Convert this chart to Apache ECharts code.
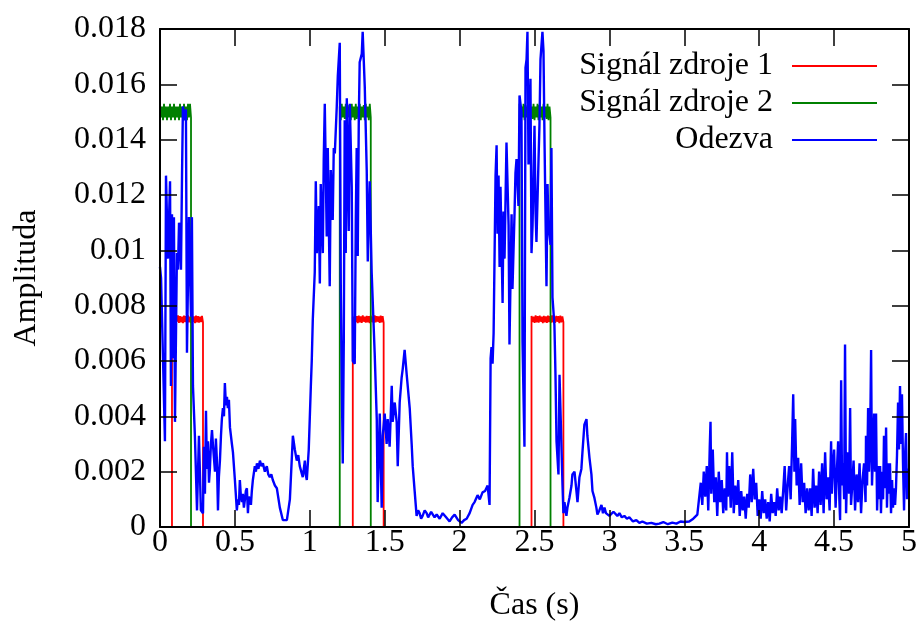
<!DOCTYPE html>
<html><head><meta charset="utf-8">
<script src="https://cdn.jsdelivr.net/npm/echarts@6/dist/echarts.min.js"></script>
<style>html,body{margin:0;padding:0;background:#fff}#c{width:920px;height:634px}</style>
</head><body><div id="c"></div>
<script>
// ---- data (amplitudes in units of 0.001) ----
const AMP_UNIT = 0.001;
const seriesNames = ['Signál zdroje 1', 'Signál zdroje 2', 'Odezva'];
const xTicks = [0, 0.5, 1, 1.5, 2, 2.5, 3, 3.5, 4, 4.5, 5];
const yTicks = [0, 0.002, 0.004, 0.006, 0.008, 0.01, 0.012, 0.014, 0.016, 0.018];

// source 1: pulse start/end times (s) and plateau samples
const zdroj1Pulses = [[0.08, 0.287], [1.287, 1.493], [2.48, 2.693]];
const zdroj1Levels = [
  [7.62,7.4,7.64,7.38,7.6,7.42,7.65,7.38,7.62,7.4,7.6,7.37,7.64,7.41,7.62,7.39,7.65,7.4,7.6,7.38,7.63,7.42,7.61,7.37,7.64,7.4,7.62,7.39,7.6,7.41,7.63,7.4],
  [7.6,7.39,7.63,7.41,7.62,7.37,7.64,7.4,7.61,7.38,7.65,7.42,7.6,7.39,7.63,7.4,7.62,7.37,7.64,7.41,7.6,7.38,7.65,7.4,7.62,7.42,7.61,7.38,7.64,7.4,7.62,7.39],
  [7.63,7.41,7.6,7.38,7.65,7.4,7.62,7.39,7.64,7.42,7.6,7.37,7.63,7.4,7.61,7.38,7.64,7.41,7.62,7.39,7.65,7.4,7.6,7.38,7.63,7.42,7.62,7.37,7.64,7.4,7.61,7.4]
];
// source 2
const zdroj2Pulses = [[0, 0.207], [1.2, 1.407], [2.4, 2.607]];
const zdroj2Levels = [
  [15.3,14.8,15.2,14.7,15.3,14.8,15.2,14.7,15.2,14.8,15.3,14.7,15.2,14.8,15.3,14.7,15.2,14.8,15.2,14.7,15.3,14.8,15.2,14.7,15.3,14.8,15.2,14.7,15.3,14.8,15.3,14.8],
  [15.2,14.7,15.3,14.8,15.2,14.75,15.3,14.7,15.25,14.8,15.2,14.7,15.3,14.8,15.2,14.7,15.3,14.75,15.2,14.8,15.3,14.7,15.2,14.8,15.25,14.7,15.3,14.8,15.2,14.7,15.3,14.8],
  [15.3,14.75,15.2,14.8,15.3,14.7,15.25,14.8,15.2,14.7,15.3,14.8,15.2,14.75,15.3,14.7,15.2,14.8,15.3,14.7,15.25,14.8,15.2,14.7,15.3,14.8,15.2,14.75,15.3,14.7,15.2,14.8]
];
// response: [time (s), amplitude]
const odezva = [
[0,9.4],[0.007,9.0],[0.02,6.1],[0.033,3.1],[0.04,12.7],[0.053,9.7],[0.067,12.5],[0.073,5.1],[0.08,11.3],[0.087,6.1],
[0.093,11.2],[0.1,3.8],[0.113,9.9],[0.12,9.3],[0.127,11.0],[0.14,9.3],[0.147,12.7],[0.153,15.2],[0.167,14.7],[0.173,15.1],
[0.18,6.3],[0.193,11.2],[0.207,7.6],[0.213,11.2],[0.22,5.1],[0.233,3.3],[0.247,0.6],[0.26,3.3],[0.273,0.6],[0.287,0.5],
[0.293,2.9],[0.3,1.2],[0.307,4.2],[0.313,2.1],[0.32,3.1],[0.327,1.6],[0.333,2.1],[0.34,3.0],[0.347,3.5],[0.353,3.0],[0.36,2.5],[0.367,2.0],[0.373,3.2],[0.38,2.4],[0.387,0.6],
[0.393,1.8],[0.4,2.4],[0.407,3.3],[0.413,3.9],[0.42,4.3],[0.427,4.0],[0.433,5.2],[0.44,4.4],[0.447,4.7],[0.453,4.3],[0.46,4.6],[0.467,3.6],[0.48,3.0],[0.487,2.7],[0.5,1.7],
[0.513,0.6],[0.52,1.0],[0.527,0.8],[0.533,1.7],[0.54,1.1],[0.547,0.9],[0.553,1.2],[0.56,0.7],[0.567,1.0],[0.573,1.3],[0.58,1.4],[0.587,0.5],[0.593,1.1],[0.6,1.0],[0.607,0.8],[0.613,1.3],
[0.62,1.7],[0.633,2.2],[0.64,2.0],[0.647,2.3],[0.657,2.1],[0.667,2.4],[0.677,2.2],[0.687,2.3],[0.7,2.0],[0.713,2.2],[0.723,1.9],[0.733,1.8],[0.743,1.9],[0.753,1.7],[0.767,1.5],[0.78,1.4],[0.8,0.7],
[0.82,0.25],[0.847,0.25],[0.867,1.0],[0.887,3.3],[0.9,2.8],[0.913,2.4],[0.923,2.6],[0.933,2.2],[0.943,2.0],[0.953,1.8],[0.96,2.1],[0.967,2.4],[0.973,1.9],[0.98,1.7],[0.993,2.8],
[1.007,5.1],[1.013,6.0],[1.02,7.5],[1.033,9.2],[1.04,12.5],[1.047,9.9],[1.06,11.6],[1.067,8.8],[1.073,12.4],[1.087,9.9],
[1.093,13.3],[1.1,15.3],[1.113,10.5],[1.12,13.7],[1.133,8.7],[1.14,12.9],[1.153,11.1],[1.16,13.7],[1.167,13.5],[1.18,15.2],
[1.187,16.3],[1.2,17.5],[1.207,8.5],[1.22,2.3],[1.227,6.8],[1.233,14.7],[1.24,9.9],[1.247,15.5],[1.26,10.7],[1.267,15.3],
[1.28,12.3],[1.287,6.0],[1.3,5.9],[1.307,11.1],[1.313,13.7],[1.32,9.8],[1.327,14.7],[1.333,16.8],[1.347,17.1],[1.353,17.9],
[1.367,15.9],[1.38,12.9],[1.387,9.6],[1.4,12.5],[1.413,9.2],[1.42,9.2],[1.433,6.3],[1.447,3.9],[1.453,0.9],[1.467,4.1],
[1.48,0.7],[1.487,3.3],[1.5,4.1],[1.513,3.0],[1.52,3.9],[1.533,2.9],[1.547,5.1],[1.553,3.8],[1.567,4.5],[1.58,3.8],
[1.587,2.2],[1.6,4.5],[1.613,5.4],[1.62,5.7],[1.633,6.4],[1.647,5.5],[1.667,4.3],[1.68,3.0],[1.687,2.2],[1.7,1.3],
[1.713,0.4],[1.723,0.6],[1.733,0.5],[1.743,0.3],[1.753,0.4],[1.767,0.6],[1.78,0.5],[1.79,0.35],[1.8,0.3],[1.81,0.55],[1.82,0.5],[1.833,0.35],[1.847,0.45],[1.867,0.3],[1.887,0.5],[1.91,0.35],[1.933,0.2],[1.95,0.35],[1.967,0.45],[1.99,0.25],
[2.013,0.15],[2.03,0.25],[2.047,0.3],[2.067,0.5],[2.087,0.8],[2.1,0.9],[2.12,1.15],[2.135,1.0],[2.153,1.25],[2.17,1.3],[2.187,1.5],[2.2,0.8],[2.207,6.1],[2.213,6.5],[2.22,5.9],
[2.227,7.0],[2.24,12.7],[2.247,13.8],[2.253,10.6],[2.26,12.7],[2.267,9.4],[2.273,12.3],[2.287,8.1],[2.293,11.4],[2.3,9.7],
[2.313,13.9],[2.32,13.9],[2.327,10.9],[2.333,6.6],[2.347,11.3],[2.353,8.6],[2.367,11.4],[2.373,12.8],[2.38,13.3],[2.393,11.6],
[2.4,15.6],[2.413,15.0],[2.42,6.7],[2.433,2.9],[2.44,16.6],[2.447,16.9],[2.453,17.9],[2.46,13.1],[2.473,16.2],[2.48,9.9],
[2.487,10.9],[2.5,14.5],[2.507,11.4],[2.513,10.3],[2.527,13.3],[2.533,14.5],[2.54,16.9],[2.553,17.9],[2.56,17.2],[2.567,13.9],
[2.58,8.7],[2.587,12.4],[2.593,10.9],[2.607,10.2],[2.613,13.7],[2.62,8.3],[2.633,7.3],[2.64,5.5],[2.647,3.1],[2.66,1.9],
[2.667,5.5],[2.673,4.3],[2.687,1.5],[2.693,0.5],[2.7,0.9],[2.713,0.4],[2.72,0.7],[2.733,1.05],[2.747,1.5],[2.753,1.9],
[2.767,2.0],[2.78,1.3],[2.787,0.9],[2.8,1.8],[2.813,2.1],[2.82,2.7],[2.833,3.7],[2.847,3.9],[2.853,3.3],[2.867,2.5],
[2.88,1.9],[2.887,1.3],[2.9,1.05],[2.913,0.7],[2.92,0.45],[2.933,0.6],[2.947,0.8],[2.957,0.5],[2.967,0.7],[2.977,0.5],[2.987,0.55],[3.0,0.4],[3.013,0.45],[3.027,0.55],[3.04,0.6],
[3.053,0.4],[3.067,0.5],[3.083,0.35],[3.1,0.4],[3.117,0.3],[3.133,0.35],[3.157,0.2],[3.18,0.25],[3.2,0.15],[3.22,0.2],[3.25,0.12],[3.28,0.15],[3.31,0.1],[3.333,0.12],[3.36,0.18],[3.39,0.1],[3.42,0.16],[3.447,0.12],[3.475,0.2],[3.5,0.18],
[3.533,0.2],[3.56,0.3],[3.587,0.45],
[3.6,0.5],[3.61,1.6],[3.62,0.8],[3.63,2.0],[3.64,1.1],[3.65,2.2],[3.66,0.6],[3.67,2.9],[3.675,3.8],[3.68,1.2],
[3.69,2.8],[3.7,0.9],[3.71,1.8],[3.72,0.4],[3.73,2.0],[3.74,0.9],[3.75,1.7],[3.76,0.5],[3.77,1.4],[3.78,0.6],
[3.785,2.7],[3.79,1.1],[3.8,2.2],[3.81,0.7],[3.82,2.7],[3.83,0.5],[3.84,1.5],[3.85,0.8],[3.86,1.7],[3.87,0.4],
[3.88,1.3],[3.89,0.6],[3.9,1.1],[3.91,0.3],[3.92,1.2],[3.93,0.7],[3.94,1.9],[3.95,0.9],[3.96,2.1],[3.97,1.0],
[3.98,1.6],[3.99,0.4],[4.0,1.0],[4.01,0.3],[4.02,1.3],[4.03,0.5],[4.04,1.0],[4.05,0.3],[4.06,0.9],[4.07,0.2],
[4.08,1.2],[4.09,0.5],[4.1,0.9],[4.11,0.4],[4.12,1.4],[4.13,0.6],[4.14,1.1],[4.15,0.5],[4.16,1.3],[4.17,2.2],
[4.18,0.6],[4.19,1.5],[4.2,2.2],[4.21,1.0],[4.22,3.1],[4.227,4.8],[4.235,2.0],[4.24,3.9],[4.25,1.5],[4.26,2.5],
[4.27,0.8],[4.28,2.3],[4.29,0.9],[4.3,1.6],[4.31,0.5],[4.32,1.4],[4.33,0.6],[4.34,1.4],[4.35,0.4],[4.36,2.1],
[4.37,0.7],[4.38,1.5],[4.39,0.5],[4.4,2.0],[4.41,0.8],[4.42,2.3],[4.43,0.5],[4.44,2.7],[4.45,1.0],[4.46,1.8],
[4.47,0.6],[4.48,3.1],[4.485,1.2],[4.49,2.0],[4.5,2.8],[4.51,0.7],[4.52,2.2],[4.527,3.1],[4.535,1.0],[4.54,0.25],
[4.547,5.3],[4.553,1.5],[4.56,2.3],[4.567,1.0],[4.573,6.6],[4.58,0.5],[4.59,2.7],[4.6,1.2],[4.607,4.3],[4.613,0.8],
[4.62,1.4],[4.63,2.4],[4.64,0.6],[4.65,1.9],[4.66,0.9],[4.67,2.3],[4.68,0.5],[4.69,1.7],[4.7,2.3],[4.71,0.9],
[4.713,3.3],[4.72,1.5],[4.727,4.3],[4.733,2.0],[4.74,2.9],[4.747,6.4],[4.753,1.5],[4.76,2.7],[4.767,4.1],[4.773,2.0],
[4.78,4.1],[4.787,0.6],[4.795,2.2],[4.8,1.0],[4.807,2.2],[4.813,0.5],[4.82,2.0],[4.827,1.0],[4.833,3.3],[4.84,1.4],
[4.847,3.6],[4.853,0.7],[4.86,2.3],[4.867,1.2],[4.873,2.3],[4.88,0.5],[4.887,1.7],[4.893,0.7],[4.9,1.4],[4.907,0.8],
[4.913,1.4],[4.92,2.6],[4.927,4.5],[4.933,2.8],[4.94,5.1],[4.947,3.0],[4.953,4.8],[4.96,2.3],[4.967,0.6],[4.973,2.5],
[4.98,3.4],[4.987,1.0],[4.993,2.0],[5.0,2.1]
];

// ---- build ----
const X_MAX = xTicks[xTicks.length - 1];
function pulseData(pulses, levels) {
  const d = [[0, 0]];
  pulses.forEach(([a, b], k) => {
    const L = levels[k], n = L.length;
    d.push([a, 0]);
    L.forEach((v, i) => d.push([a + (b - a) * i / (n - 1), v * AMP_UNIT]));
    d.push([b, 0]);
  });
  d.push([X_MAX, 0]);
  return d;
}
const FONT = 'Liberation Serif';
const chart = echarts.init(document.getElementById('c'), null, {renderer: 'canvas'});
const axisCommon = {
  type: 'value',
  axisLine: {show: true, onZero: false, lineStyle: {color: '#000', width: 2}},
  axisTick: {show: true, inside: true, length: 17, lineStyle: {color: '#000', width: 1.5}},
  splitLine: {show: false},
  z: 10
};
const xBase = Object.assign({}, axisCommon, {min: xTicks[0], max: X_MAX, interval: xTicks[1] - xTicks[0]});
const yBase = Object.assign({}, axisCommon, {min: yTicks[0], max: yTicks[yTicks.length - 1], interval: yTicks[1] - yTicks[0]});
const txt = {fontFamily: FONT, fontSize: 32, color: '#000'};
chart.setOption({
  animation: false,
  backgroundColor: '#fff',
  grid: {left: 160, right: 10, top: 29, bottom: 107},
  legend: {
    orient: 'vertical', align: 'right', right: 38, top: 45,
    itemWidth: 85, itemHeight: 2, itemGap: 5, icon: 'rect',
    data: seriesNames,
    textStyle: Object.assign({}, txt, {lineHeight: 32, padding: [0, 14, 0, 0]})
  },
  xAxis: [
    Object.assign({}, xBase, {position: 'bottom',
      axisLabel: Object.assign({}, txt, {margin: 0, formatter: v => String(+v.toFixed(2))}),
      name: 'Čas (s)', nameLocation: 'middle', nameGap: 63, nameTextStyle: txt}),
    Object.assign({}, xBase, {position: 'top', axisLabel: {show: false}})
  ],
  yAxis: [
    Object.assign({}, yBase, {position: 'left',
      axisLabel: Object.assign({}, txt, {margin: 14, formatter: v => String(+v.toFixed(3))}),
      name: 'Amplituda', nameLocation: 'middle', nameGap: 117, nameRotate: 90, nameTextStyle: txt}),
    Object.assign({}, yBase, {position: 'right', axisLabel: {show: false}})
  ],
  series: [
    {name: seriesNames[0], type: 'line', data: pulseData(zdroj1Pulses, zdroj1Levels), showSymbol: false, symbol: 'none',
     color: '#ff0000', lineStyle: {color: '#ff0000', width: 1.8}, z: 2},
    {name: seriesNames[1], type: 'line', data: pulseData(zdroj2Pulses, zdroj2Levels), showSymbol: false, symbol: 'none',
     color: '#008000', lineStyle: {color: '#008000', width: 1.8}, z: 3},
    {name: seriesNames[2], type: 'line', data: odezva.map(([t, v]) => [t, v * AMP_UNIT]), showSymbol: false, symbol: 'none',
     color: '#0000ff', lineStyle: {color: '#0000ff', width: 2.4}, z: 4}
  ]
});
</script></body></html>
